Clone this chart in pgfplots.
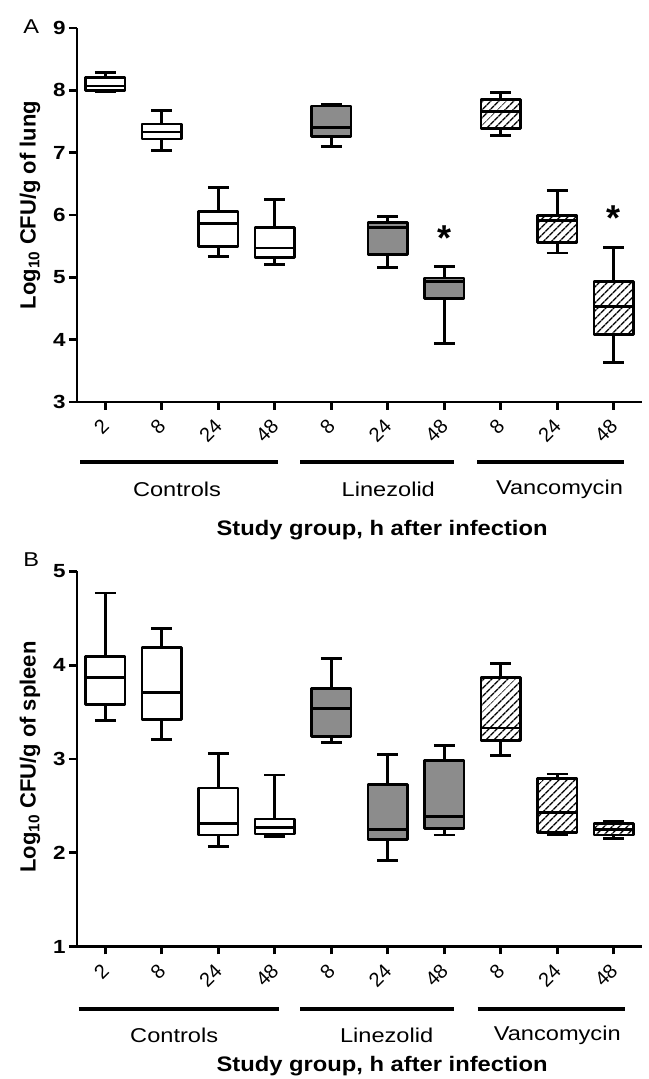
\documentclass[border=0pt]{standalone}
\usepackage{fontspec}
\setmainfont{Liberation Sans}
\newfontfamily\wfont{Liberation Sans}[FakeStretch=1.18]
\newfontfamily\xfont{Liberation Sans}[FakeStretch=1.13]
\usepackage{pgfplots}
\pgfplotsset{compat=1.18}
\usepgfplotslibrary{statistics}
\usetikzlibrary{patterns.meta}
\definecolor{boxgray}{RGB}{140,140,140}

\newcommand{\fs}[1]{\fontsize{#1bp}{#1bp}\selectfont}

\pgfplotsset{
  panel/.style={
    width=565bp, scale only axis,
    xmin=-0.5, xmax=9.5,
    axis x line*=bottom, axis y line*=left,
    axis line style={line width=2.8bp, black},
    tick style={line width=2.8bp, black},
    major tick length=8bp, tick align=outside,
    xtick={0,...,9},
    xticklabels={2,8,24,48,8,24,48,8,24,48},
    xticklabel style={yshift=-12bp, xshift=1bp, rotate=45, anchor=east, inner sep=1bp, font=\fs{20}},
    yticklabel style={font=\wfont\fs{19}\bfseries},
    /pgf/number format/assume math mode=true,
    clip=false,
  },
  bx/.style={black, line width=2.8bp, solid, line join=round,
    /pgfplots/boxplot/draw direction=y,
    /pgfplots/boxplot/box extend=0.7, /pgfplots/boxplot/whisker extend=0.37},
  wbox/.style={bx, fill=white},
  gbox/.style={bx, fill=boxgray},
  hbox/.style={bx, pattern={Lines[angle=45,distance=6bp,line width=1.6bp]}},
}

\newcommand{\bp}[7]{\addplot[#1, boxplot prepared={draw position=#2,
  lower whisker=#3, lower quartile=#4, median=#5,
  upper quartile=#6, upper whisker=#7}] coordinates {};}

\begin{document}
\begin{tikzpicture}
\path[use as bounding box] (0,0) rectangle (649bp,1079bp);

% ---------------- Panel A ----------------
\begin{axis}[panel, at={(77bp,677bp)}, anchor=south west,
  height=374bp, ymin=3, ymax=9, ytick={3,...,9}]
\bp{wbox}{0}{7.98}{8.00}{8.07}{8.20}{8.28}
\bp{wbox}{1}{7.03}{7.22}{7.33}{7.46}{7.67}
\bp{wbox}{2}{5.33}{5.49}{5.86}{6.05}{6.44}
\bp{wbox}{3}{5.21}{5.32}{5.47}{5.80}{6.25}
\bp{gbox}{4}{7.10}{7.26}{7.40}{7.75}{7.78}
\bp{gbox}{5}{5.16}{5.37}{5.80}{5.88}{5.97}
\bp{gbox}{6}{3.94}{4.66}{4.93}{4.99}{5.17}
\bp{hbox}{7}{7.27}{7.39}{7.66}{7.85}{7.97}
\bp{hbox}{8}{5.39}{5.56}{5.91}{5.99}{6.39}
\bp{hbox}{9}{3.63}{4.08}{4.53}{4.93}{5.48}
\node[font=\fs{36}\bfseries, yshift=-6bp] at (axis cs:6,5.72) {*};
\node[font=\fs{36}\bfseries, yshift=-6bp] at (axis cs:9,6.05) {*};
\draw[line width=3.2bp] ([yshift=-60bp]axis cs:-0.44,3) -- ([yshift=-60bp]axis cs:3.06,3);
\draw[line width=3.2bp] ([yshift=-60bp]axis cs:3.45,3) -- ([yshift=-60bp]axis cs:6.17,3);
\draw[line width=3.2bp] ([yshift=-60bp]axis cs:6.58,3) -- ([yshift=-60bp]axis cs:9.18,3);
\node[font=\wfont\fs{20}] at ([yshift=-87bp]axis cs:1.27,3) {Controls};
\node[font=\wfont\fs{20}] at ([yshift=-87bp]axis cs:5.01,3) {Linezolid};
\node[font=\wfont\fs{20}] at ([yshift=-87bp]axis cs:8.04,3) {Vancomycin};
\node[font=\xfont\fs{21}\bfseries] at ([yshift=-128bp]axis cs:4.9,3) {Study group, h after infection};
\node[font=\fs{22}, rotate=90] at (axis description cs:-0.0832,0.527) {\bfseries Log\textsubscript{10} CFU/g of lung};
\node[font=\wfont\fs{20}] at (axis description cs:-0.081,1.003) {A};
\end{axis}

% ---------------- Panel B ----------------
\begin{axis}[panel, at={(77bp,132.5bp)}, anchor=south west,
  height=375bp, ymin=1, ymax=5, ytick={1,...,5}]
\bp{wbox}{0}{3.41}{3.58}{3.87}{4.09}{4.77}
\bp{wbox}{1}{3.21}{3.42}{3.71}{4.19}{4.39}
\bp{wbox}{2}{2.07}{2.19}{2.31}{2.69}{3.06}
\bp{wbox}{3}{2.17}{2.20}{2.27}{2.36}{2.83}
\bp{gbox}{4}{3.18}{3.24}{3.54}{3.75}{4.07}
\bp{gbox}{5}{1.92}{2.14}{2.25}{2.73}{3.05}
\bp{gbox}{6}{2.19}{2.26}{2.39}{2.98}{3.14}
\bp{hbox}{7}{3.04}{3.20}{3.33}{3.87}{4.02}
\bp{hbox}{8}{2.19}{2.22}{2.43}{2.79}{2.84}
\bp{hbox}{9}{2.15}{2.19}{2.25}{2.31}{2.33}
\draw[line width=3.2bp] ([yshift=-62.5bp]axis cs:-0.47,1) -- ([yshift=-62.5bp]axis cs:3.07,1);
\draw[line width=3.2bp] ([yshift=-62.5bp]axis cs:3.45,1) -- ([yshift=-62.5bp]axis cs:6.17,1);
\draw[line width=3.2bp] ([yshift=-62.5bp]axis cs:6.59,1) -- ([yshift=-62.5bp]axis cs:9.2,1);
\node[font=\wfont\fs{20}] at ([yshift=-88.5bp]axis cs:1.22,1) {Controls};
\node[font=\wfont\fs{20}] at ([yshift=-88.5bp]axis cs:4.98,1) {Linezolid};
\node[font=\wfont\fs{20}] at ([yshift=-88.5bp]axis cs:8.0,1) {Vancomycin};
\node[font=\xfont\fs{21}\bfseries] at ([yshift=-120bp]axis cs:4.9,1) {Study group, h after infection};
\node[font=\fs{22}, rotate=90] at (axis description cs:-0.0832,0.505) {\bfseries Log\textsubscript{10} CFU/g of spleen};
\node[font=\wfont\fs{20}] at (axis description cs:-0.081,1.031) {B};
\end{axis}
\end{tikzpicture}
\end{document}
